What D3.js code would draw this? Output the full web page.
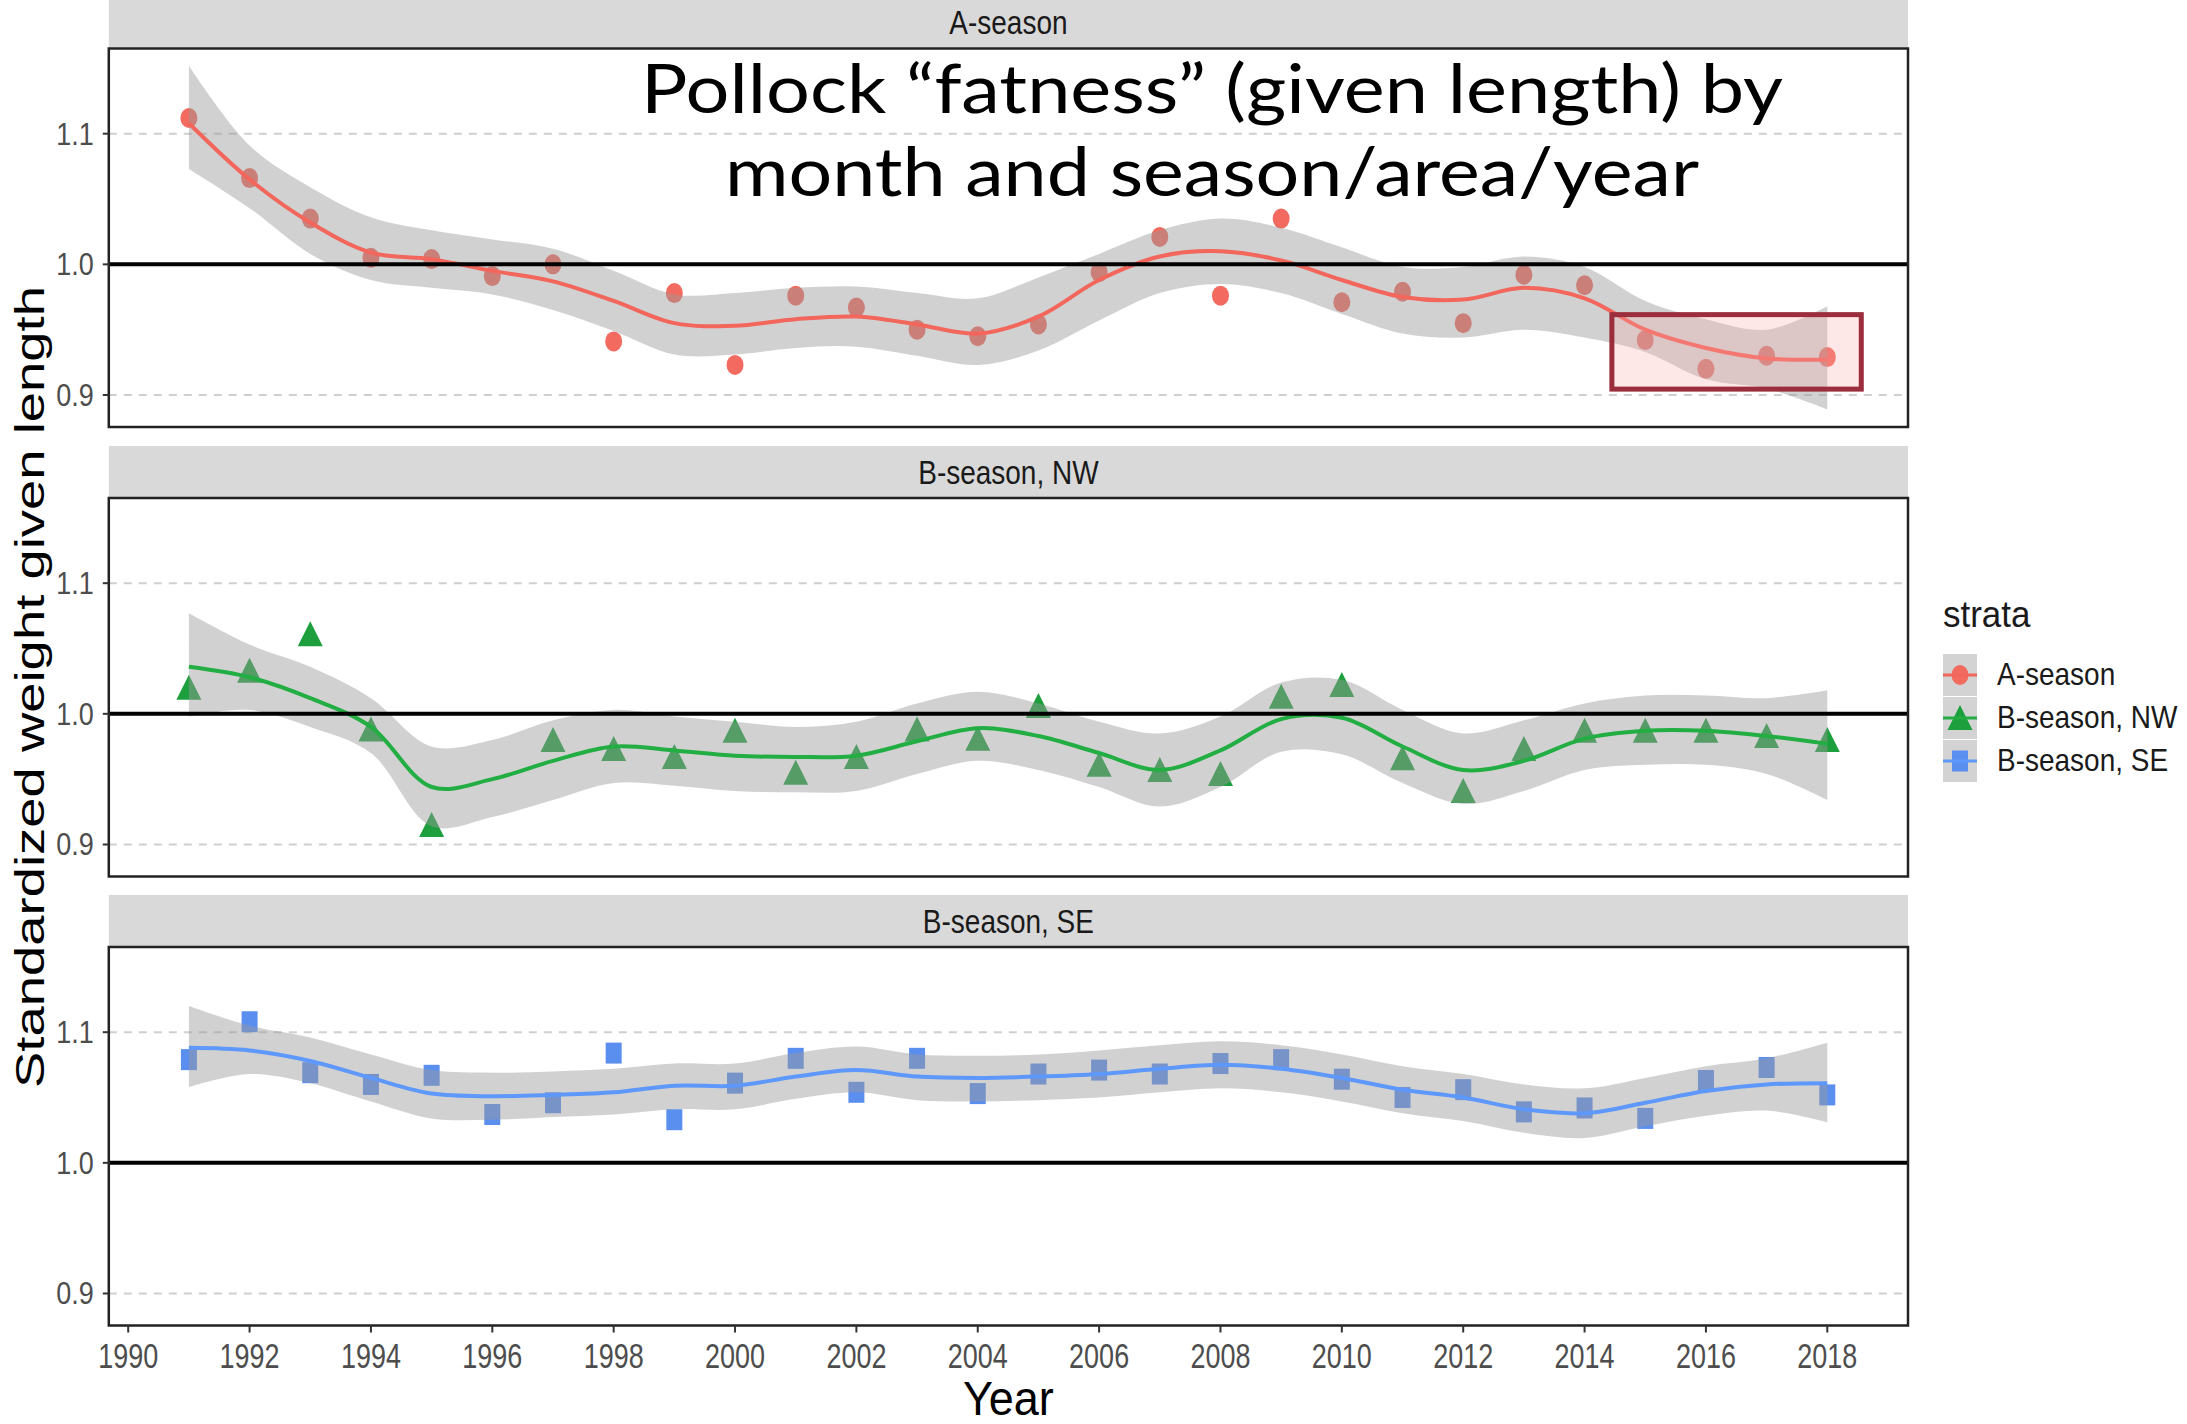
<!DOCTYPE html>
<html><head><meta charset="utf-8">
<script src="https://cdn.jsdelivr.net/npm/d3@7"></script>
<style>body{margin:0;background:#fff}svg{display:block}</style>
</head><body><svg id="c" width="2187" height="1424"></svg>
<script>
// ---------- data ----------
const years=[1991,1992,1993,1994,1995,1996,1997,1998,1999,2000,2001,2002,2003,2004,2005,2006,2007,2008,2009,2010,2011,2012,2013,2014,2015,2016,2017,2018];
const facets=["A-season","B-season, NW","B-season, SE"];

const aPoints=[1.112,1.066,1.035,1.005,1.004,0.991,1.000,0.941,0.978,0.923,0.976,0.967,0.950,0.945,0.954,0.994,1.021,0.976,1.035,0.971,0.979,0.955,0.992,0.984,0.942,0.920,0.930,0.929];
const aFit=[1.108,1.065,1.032,1.009,1.004,0.995,0.987,0.972,0.955,0.953,0.958,0.960,0.954,0.947,0.960,0.988,1.006,1.010,1.003,0.988,0.975,0.973,0.982,0.974,0.950,0.936,0.928,0.927];
const aUpper=[1.152,1.091,1.059,1.036,1.026,1.019,1.012,0.995,0.977,0.978,0.982,0.983,0.978,0.974,0.990,1.008,1.026,1.035,1.028,1.013,0.998,0.998,1.006,0.998,0.972,0.958,0.950,0.968];
const aLower=[1.073,1.043,1.008,0.988,0.982,0.977,0.965,0.949,0.931,0.931,0.936,0.937,0.930,0.923,0.934,0.957,0.978,0.985,0.978,0.962,0.947,0.944,0.950,0.944,0.933,0.912,0.905,0.889];

const nwPoints=[1.020,1.033,1.061,0.988,0.915,null,0.980,0.973,0.967,0.987,0.955,0.967,0.988,0.981,1.006,0.961,0.957,0.954,1.013,1.022,0.966,0.941,0.973,0.987,0.987,0.987,0.983,0.980];
const nwFit=[1.036,1.028,1.012,0.990,0.944,0.950,0.964,0.975,0.972,0.968,0.967,0.968,0.979,0.989,0.983,0.970,0.957,0.972,0.996,0.997,0.975,0.957,0.964,0.981,0.987,0.987,0.983,0.977];
const nwUpper=[1.077,1.053,1.036,1.012,0.975,0.980,0.995,1.003,0.998,0.994,0.990,0.994,1.008,1.017,1.008,0.994,0.985,0.998,1.024,1.026,1.003,0.985,0.995,1.008,1.014,1.014,1.012,1.018];
const nwLower=[0.998,1.003,0.990,0.970,0.914,0.921,0.934,0.947,0.945,0.941,0.940,0.941,0.954,0.964,0.957,0.944,0.929,0.944,0.971,0.969,0.947,0.931,0.941,0.957,0.961,0.961,0.954,0.934];

const sePoints=[1.079,1.108,1.069,1.060,1.067,1.037,1.046,1.084,1.033,1.061,1.080,1.054,1.080,1.053,1.068,1.071,1.068,1.076,1.079,1.064,1.050,1.056,1.039,1.042,1.034,1.063,1.073,1.052];
const seFit=[1.088,1.086,1.078,1.065,1.053,1.051,1.052,1.054,1.059,1.059,1.066,1.071,1.066,1.065,1.066,1.068,1.072,1.075,1.072,1.065,1.056,1.050,1.041,1.038,1.046,1.055,1.060,1.061];
const seUpper=[1.120,1.105,1.096,1.083,1.071,1.069,1.070,1.072,1.076,1.076,1.084,1.089,1.083,1.082,1.083,1.086,1.090,1.093,1.090,1.083,1.074,1.068,1.060,1.057,1.065,1.074,1.080,1.092];
const seLower=[1.058,1.068,1.061,1.047,1.034,1.033,1.035,1.037,1.041,1.041,1.049,1.054,1.048,1.047,1.048,1.050,1.054,1.057,1.054,1.047,1.038,1.032,1.023,1.019,1.028,1.036,1.040,1.031];

const yTicks=[0.9,1.0,1.1];
const yTickLabels=["0.9","1.0","1.1"];
const xTicks=[1990,1992,1994,1996,1998,2000,2002,2004,2006,2008,2010,2012,2014,2016,2018];
const refValue=[1.0];
const titleLines=["Pollock \u201cfatness\u201d (given length) by","month and season/area/year"];
const highlightYears=[2014.45,2018.56];
const highlightValues=[0.9045,0.9615];
const legendTitle="strata";
const xTitle="Year";
const yTitle="Standardized weight given length";

const series=[
  {name:facets[0],pts:aPoints,fit:aFit,lo:aLower,hi:aUpper,color:"#F26A60",line:"#F2665C",shape:"circle"},
  {name:facets[1],pts:nwPoints,fit:nwFit,lo:nwLower,hi:nwUpper,color:"#1E9F3E",line:"#22AE42",shape:"triangle"},
  {name:facets[2],pts:sePoints,fit:seFit,lo:seLower,hi:seUpper,color:"#5B8FEF",line:"#5E98FA",shape:"square"}
];

// ---------- layout ----------
const svg=d3.select("#c");
const pL=108.8,pR=1908,pH=378.5;
const panelTops=[48.5,498,947];
const x=d3.scaleLinear().domain([1989.68,2019.33]).range([pL,pR]);
const FONT="'Liberation Sans', Arial, sans-serif";

function stext(g,xx,yy,str,size,sy,anchor,fill){
  return g.append("text").attr("transform",`translate(${xx},${yy}) scale(1,${sy})`)
    .attr("font-family",FONT).attr("font-size",size).attr("text-anchor",anchor)
    .attr("fill",fill).text(str);
}
function drawShape(g,shape,cx,cy,color){
  if(shape==="circle") g.append("ellipse").attr("cx",cx).attr("cy",cy).attr("rx",8.5).attr("ry",10).attr("fill",color);
  else if(shape==="triangle") g.append("path").attr("d",`M${cx},${cy-13}L${cx+12.5},${cy+12}L${cx-12.5},${cy+12}Z`).attr("fill",color);
  else g.append("rect").attr("x",cx-8).attr("y",cy-10.5).attr("width",16).attr("height",21).attr("fill",color);
}

series.forEach((s,i)=>{
  const top=panelTops[i], bot=top+pH;
  const y=d3.scaleLinear().domain([0.8755,1.1652]).range([bot,top]);
  const g=svg.append("g");
  // strip
  g.append("rect").attr("x",pL).attr("y",top-52).attr("width",pR-pL).attr("height",51).attr("fill","#d9d9d9");
  stext(g,(pL+pR)/2,top-52+25.5+12,s.name,28,1.2,"middle","#1a1a1a");
  // panel bg
  g.append("rect").attr("x",pL).attr("y",top).attr("width",pR-pL).attr("height",pH).attr("fill","#fff");
  // grid
  g.selectAll(".grid").data(yTicks).enter().append("line")
    .attr("x1",pL).attr("x2",pR).attr("y1",d=>y(d)).attr("y2",d=>y(d))
    .attr("stroke","#cfcfcf").attr("stroke-width",2).attr("stroke-dasharray","8,7");
  // points
  const pg=g.append("g");
  years.forEach((yr,k)=>{ if(s.pts[k]!=null) drawShape(pg,s.shape,x(yr),y(s.pts[k]),s.color); });
  // ribbon
  const area=d3.area().x((d,k)=>x(years[k])).y0((d,k)=>y(s.lo[k])).y1((d,k)=>y(s.hi[k])).curve(d3.curveCatmullRom);
  g.append("path").datum(years).attr("d",area).attr("fill","#999").attr("fill-opacity",0.45);
  // fit line
  const line=d3.line().x((d,k)=>x(years[k])).y((d,k)=>y(s.fit[k])).curve(d3.curveCatmullRom);
  g.append("path").datum(years).attr("d",line).attr("fill","none").attr("stroke",s.line).attr("stroke-width",4);
  // reference line
  g.selectAll(".ref").data(refValue).enter().append("line")
    .attr("x1",pL).attr("x2",pR).attr("y1",d=>y(d)).attr("y2",d=>y(d))
    .attr("stroke","#000").attr("stroke-width",4);
  // border
  g.append("rect").attr("x",pL).attr("y",top).attr("width",pR-pL).attr("height",pH)
    .attr("fill","none").attr("stroke","#222").attr("stroke-width",2.5);
  // y axis ticks
  yTicks.forEach((t,k)=>{
    g.append("line").attr("x1",pL-6).attr("x2",pL).attr("y1",y(t)).attr("y2",y(t)).attr("stroke","#333").attr("stroke-width",2);
    stext(g,pL-15,y(t)+11,yTickLabels[k],27,1.15,"end","#4d4d4d");
  });
  // x axis on bottom panel
  if(i===2){
    xTicks.forEach(t=>{
      g.append("line").attr("x1",x(t)).attr("x2",x(t)).attr("y1",bot).attr("y2",bot+7).attr("stroke","#333").attr("stroke-width",2);
      stext(g,x(t),bot+42,String(t),27,1.33,"middle","#4d4d4d");
    });
  }
  // highlight box on first panel
  if(i===0){
    g.append("rect").attr("x",x(highlightYears[0])).attr("y",y(highlightValues[1]))
      .attr("width",x(highlightYears[1])-x(highlightYears[0])).attr("height",y(highlightValues[0])-y(highlightValues[1]))
      .attr("fill","rgb(250,170,170)").attr("fill-opacity",0.28).attr("stroke","#9b2d3d").attr("stroke-width",5);
  }
});

// axis titles
stext(svg,(pL+pR)/2,1415,xTitle,45,1.05,"middle","#000");
svg.append("text").attr("transform","translate(44,687) rotate(-90)")
  .attr("font-family",FONT).attr("font-size",40).attr("text-anchor","middle")
  .attr("textLength",802).attr("lengthAdjust","spacingAndGlyphs").attr("fill","#000").text(yTitle);

// title overlay
const tl=[1142,974], tb=[113,196];
titleLines.forEach((t,k)=>{
  svg.append("text").attr("x",1212).attr("y",tb[k]).attr("text-anchor","middle")
    .attr("font-family","Lato, 'Open Sans', sans-serif").attr("font-size",67)
    .attr("textLength",tl[k]).attr("lengthAdjust","spacingAndGlyphs").attr("fill","#000").text(t);
});

// legend
const lg=svg.append("g");
stext(lg,1943,627,legendTitle,35,1.05,"start","#1a1a1a");
series.forEach((s,k)=>{
  const ky=654+k*43;
  lg.append("rect").attr("x",1943).attr("y",ky).attr("width",34).attr("height",42).attr("fill","#d3d3d3");
  drawShape(lg,s.shape,1960,ky+21,s.color);
  lg.append("line").attr("x1",1943).attr("x2",1977).attr("y1",ky+21).attr("y2",ky+21).attr("stroke",s.line).attr("stroke-width",3);
  stext(lg,1997,ky+31,s.name,28,1.15,"start","#1a1a1a");
});
</script></body></html>
